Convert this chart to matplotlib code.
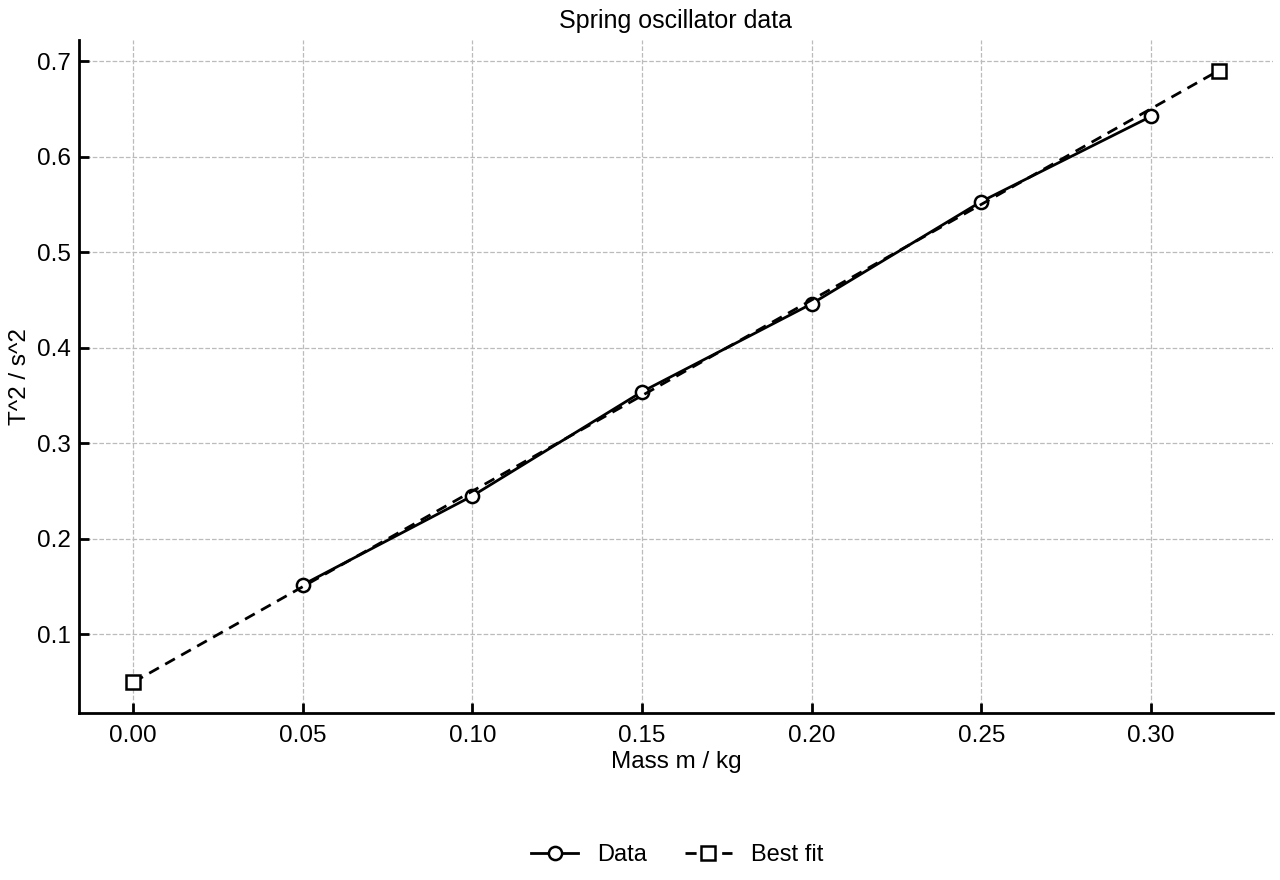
import numpy as np
import matplotlib
matplotlib.use("Agg")
import matplotlib.pyplot as plt

plt.rcParams['font.family'] = ['Liberation Sans', 'DejaVu Sans']
plt.rcParams['font.size'] = 17.5

# measured data
mass = [0.05, 0.10, 0.15, 0.20, 0.25, 0.30]
t_sq = [0.152, 0.245, 0.354, 0.446, 0.553, 0.642]

# best fit line end points
fit_x = [0.0, 0.32]
fit_y = [0.05, 0.69]

fig = plt.figure(figsize=(12.8, 8.8), dpi=100)
ax = fig.add_axes([0.0617, 0.19, 0.9328, 0.7645])

ax.plot(mass, t_sq, color='black', lw=2, marker='o', ms=9.5, mfc='white',
        mew=1.8, label='Data', zorder=3)
ax.plot(fit_x, fit_y, color='black', lw=2, ls=(0, (4, 2.6)), marker='s', ms=10,
        mfc='white', mew=1.8, label='Best fit', zorder=3)

ax.set_title('Spring oscillator data', fontsize=18, pad=9)
ax.set_xlabel('Mass m / kg', fontsize=17.5, labelpad=3)
ax.set_ylabel('T^2 / s^2', fontsize=17.5, labelpad=4)

ax.set_xticks([0.0, 0.05, 0.10, 0.15, 0.20, 0.25, 0.30])
ax.set_xticklabels(['0.00', '0.05', '0.10', '0.15', '0.20', '0.25', '0.30'])
ax.set_yticks([0.1, 0.2, 0.3, 0.4, 0.5, 0.6, 0.7])

ax.grid(True, color='#bbbbbb', ls='--', lw=0.9)
ax.set_axisbelow(True)
ax.spines['top'].set_visible(False)
ax.spines['right'].set_visible(False)
ax.spines['left'].set_linewidth(2)
ax.spines['bottom'].set_linewidth(2)
ax.tick_params(direction='in', length=7, width=2, labelsize=17.5)
ax.tick_params(axis='x', pad=9)
ax.tick_params(axis='y', pad=6)

fig.legend(loc='lower center', ncol=2, frameon=False, fontsize=17,
           bbox_to_anchor=(0.529, -0.008), handlelength=2.0, columnspacing=1.6,
           handletextpad=0.8)

fig.savefig('out.png', dpi=100)
